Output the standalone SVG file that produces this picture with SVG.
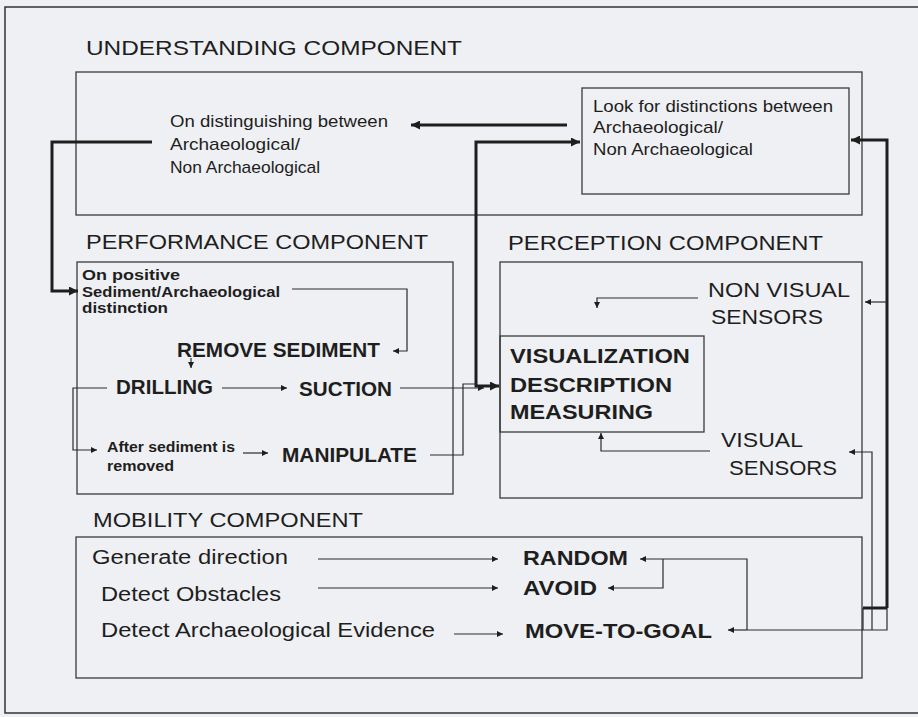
<svg xmlns="http://www.w3.org/2000/svg" width="918" height="717" viewBox="0 0 918 717">
<style>
text{font-family:"Liberation Sans",Arial,sans-serif;fill:#1e1e1e}
.h{font-size:21px}
.m{font-size:17px}
.sb{font-size:14px;font-weight:bold}
.b{font-size:19.5px;font-weight:bold}
.r{font-size:20px}
.box{fill:none;stroke:#3a3a3a;stroke-width:1.3}
.thin{fill:none;stroke:#2a2a2a;stroke-width:1.2}
.thick{fill:none;stroke:#1e1e1e;stroke-width:3}
</style>
<defs>
<marker id="a" viewBox="0 0 10 10" refX="10" refY="5" markerUnits="userSpaceOnUse" markerWidth="8" markerHeight="6" orient="auto-start-reverse"><path d="M0,0 L10,5 L0,10 z" fill="#1e1e1e"/></marker>
<marker id="A" viewBox="0 0 10 10" refX="10" refY="5" markerUnits="userSpaceOnUse" markerWidth="13" markerHeight="9" orient="auto-start-reverse"><path d="M0,0 L10,5 L0,10 z" fill="#1e1e1e"/></marker>
</defs>
<rect x="0" y="0" width="918" height="717" fill="#eef0f3"/>
<rect x="5" y="7" width="930" height="706" fill="none" stroke="#333" stroke-width="1.5"/>

<g id="understanding">
<text class="h" x="86" y="55" textLength="376" lengthAdjust="spacingAndGlyphs">UNDERSTANDING COMPONENT</text>
<rect class="box" x="76" y="72" width="786" height="143"/>
</g>
<g id="on-distinguishing">
<text class="m" x="170" y="127" textLength="218" lengthAdjust="spacingAndGlyphs">On distinguishing between</text>
<text class="m" x="170" y="150" textLength="130" lengthAdjust="spacingAndGlyphs">Archaeological/</text>
<text class="m" x="170" y="173" textLength="150" lengthAdjust="spacingAndGlyphs">Non Archaeological</text>
</g>
<g id="look-for">
<rect class="box" x="582" y="88" width="267" height="106"/>
<text class="m" x="593" y="112" textLength="240" lengthAdjust="spacingAndGlyphs">Look for distinctions between</text>
<text class="m" x="593" y="133" textLength="130" lengthAdjust="spacingAndGlyphs">Archaeological/</text>
<text class="m" x="593" y="155" textLength="160" lengthAdjust="spacingAndGlyphs">Non Archaeological</text>
</g>

<g id="performance">
<text class="h" x="86" y="249" textLength="342" lengthAdjust="spacingAndGlyphs">PERFORMANCE COMPONENT</text>
<rect class="box" x="77" y="262" width="376" height="232"/>
</g>
<g id="on-positive">
<text class="sb" x="82" y="280" textLength="98" lengthAdjust="spacingAndGlyphs">On positive</text>
<text class="sb" x="82" y="297" textLength="198" lengthAdjust="spacingAndGlyphs">Sediment/Archaeological</text>
<text class="sb" x="82" y="313" textLength="86" lengthAdjust="spacingAndGlyphs">distinction</text>
</g>
<g id="remove-sediment"><text class="b" x="177" y="357" textLength="203" lengthAdjust="spacingAndGlyphs">REMOVE SEDIMENT</text></g>
<g id="drilling"><text class="b" x="116" y="394" textLength="97" lengthAdjust="spacingAndGlyphs">DRILLING</text></g>
<g id="suction"><text class="b" x="299" y="396" textLength="93" lengthAdjust="spacingAndGlyphs">SUCTION</text></g>
<g id="after-sediment">
<text class="sb" x="107" y="452" textLength="128" lengthAdjust="spacingAndGlyphs">After sediment is</text>
<text class="sb" x="107" y="471" textLength="67" lengthAdjust="spacingAndGlyphs">removed</text>
</g>
<g id="manipulate"><text class="b" x="282" y="462" textLength="135" lengthAdjust="spacingAndGlyphs">MANIPULATE</text></g>

<g id="perception">
<text class="h" x="508" y="250" textLength="315" lengthAdjust="spacingAndGlyphs">PERCEPTION COMPONENT</text>
<rect class="box" x="500" y="262" width="362" height="236"/>
</g>
<g id="non-visual-sensors">
<text class="r" x="708" y="297" textLength="142" lengthAdjust="spacingAndGlyphs">NON VISUAL</text>
<text class="r" x="711" y="324" textLength="112" lengthAdjust="spacingAndGlyphs">SENSORS</text>
</g>
<g id="visualization">
<rect class="box" x="500" y="336" width="204" height="96"/>
<text class="b" x="510" y="363" textLength="180" lengthAdjust="spacingAndGlyphs">VISUALIZATION</text>
<text class="b" x="510" y="392" textLength="162" lengthAdjust="spacingAndGlyphs">DESCRIPTION</text>
<text class="b" x="510" y="419" textLength="143" lengthAdjust="spacingAndGlyphs">MEASURING</text>
</g>
<g id="visual-sensors">
<text class="r" x="721" y="447" textLength="82" lengthAdjust="spacingAndGlyphs">VISUAL</text>
<text class="r" x="729" y="475" textLength="108" lengthAdjust="spacingAndGlyphs">SENSORS</text>
</g>

<g id="mobility">
<text class="h" x="93" y="527" textLength="270" lengthAdjust="spacingAndGlyphs">MOBILITY COMPONENT</text>
<rect class="box" x="76" y="537" width="786" height="141"/>
</g>
<g id="generate-direction"><text class="r" x="92" y="564" textLength="196" lengthAdjust="spacingAndGlyphs">Generate direction</text></g>
<g id="detect-obstacles"><text class="r" x="101" y="601" textLength="180" lengthAdjust="spacingAndGlyphs">Detect Obstacles</text></g>
<g id="detect-evidence"><text class="r" x="101" y="637" textLength="334" lengthAdjust="spacingAndGlyphs">Detect Archaeological Evidence</text></g>
<g id="random"><text class="b" x="523" y="565" textLength="105" lengthAdjust="spacingAndGlyphs">RANDOM</text></g>
<g id="avoid"><text class="b" x="523" y="595" textLength="74" lengthAdjust="spacingAndGlyphs">AVOID</text></g>
<g id="move-to-goal"><text class="b" x="525" y="638" textLength="187" lengthAdjust="spacingAndGlyphs">MOVE-TO-GOAL</text></g>

<g id="connectors">
<path class="thick" d="M567,125 H411" marker-end="url(#A)"/>
<path class="thick" d="M152,142 H52 V291 H78" marker-end="url(#A)"/>
<path class="thick" d="M580,142 H476 V386 H499" marker-start="url(#A)" marker-end="url(#A)"/>
<path class="thick" d="M887,608 V140 H851" marker-end="url(#A)"/>
<path class="thick" d="M863,608 H887"/>
<path class="thin" d="M292,289 H407 V351 H393" marker-end="url(#a)"/>
<path class="thin" d="M191,358 V368" marker-end="url(#a)"/>
<path class="thin" d="M222,388 H287" marker-end="url(#a)"/>
<path class="thin" d="M107,388 H73 V450 H97" marker-end="url(#a)"/>
<path class="thin" d="M243,453 H268" marker-end="url(#a)"/>
<path class="thin" d="M400,388 H484" marker-end="url(#a)"/>
<path class="thin" d="M430,455 H463 V384 H476"/>
<path class="thin" d="M698,298 H597 V308" marker-end="url(#a)"/>
<path class="thin" d="M710,451 H601 V433" marker-end="url(#a)"/>
<path class="thin" d="M887,302 H865" marker-end="url(#a)"/>
<path class="thin" d="M887,608 V630 H747"/>
<path class="thin" d="M863,608 V630"/>
<path class="thin" d="M872,630 V452 H849" marker-end="url(#a)"/>
<path class="thin" d="M747,630 H728" marker-end="url(#a)"/>
<path class="thin" d="M747,630 V559 H640" marker-end="url(#a)"/>
<path class="thin" d="M663,559 V588 H608" marker-end="url(#a)"/>
<path class="thin" d="M318,559 H498" marker-end="url(#a)"/>
<path class="thin" d="M318,588 H498" marker-end="url(#a)"/>
<path class="thin" d="M454,634 H503" marker-end="url(#a)"/>
</g>
</svg>
